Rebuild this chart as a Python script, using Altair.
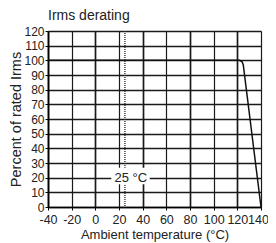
import altair as alt
import pandas as pd

temp = [-40, 122, 124, 125, 140]
pct = [100, 100, 99, 97, 0]
x_ticks = [-40, -20, 0, 20, 40, 60, 80, 100, 120, 140]
y_ticks = [0, 10, 20, 30, 40, 50, 60, 70, 80, 90, 100, 110, 120]
ref_temp = [25]
label_text = ["25 °C"]
label_x = [30]
label_y = [20]
label_box_x = [13.5]
label_box_x2 = [46]
label_box_y = [15.5]
label_box_y2 = [26.8]

FONT = "Liberation Sans"

curve = pd.DataFrame({"t": temp, "p": pct})
ref = pd.DataFrame({"t": ref_temp})
lab = pd.DataFrame({"x": label_x, "y": label_y, "txt": label_text,
                    "bx": label_box_x, "bx2": label_box_x2,
                    "by": label_box_y, "by2": label_box_y2})

xscale = alt.Scale(domain=[-40, 140], nice=False, zero=False)
yscale = alt.Scale(domain=[0, 120], nice=False)

xaxis = alt.Axis(values=x_ticks, title="Ambient temperature (°C)", grid=True,
                 gridColor="#1a1a1a", gridOpacity=1,
                 gridWidth=alt.condition("datum.value % 40 === 0", alt.value(1.7), alt.value(1.2)),
                 domainColor="#000", domainWidth=1.5, tickColor="#000", tickSize=3,
                 labelFont=FONT, labelFontSize=12.5, labelColor="#222", labelPadding=3,
                 labelOverlap=False, labelFlush=False,
                 labelExpr="toString(datum.value)",
                 labelOffset=alt.condition("datum.value === 140", alt.value(-3), alt.value(0)),
                 titleFont=FONT, titleFontSize=13, titleFontWeight="normal",
                 titleColor="#222", titlePadding=3)
yaxis = alt.Axis(values=y_ticks, title="Percent of rated Irms", grid=True,
                 gridColor="#1a1a1a", gridWidth=1.4, gridOpacity=1,
                 domainColor="#000", domainWidth=1.5, tickColor="#000", tickSize=3,
                 labelFont=FONT, labelFontSize=12, labelColor="#222", labelPadding=1,
                 labelOverlap=False, labelFlush=False,
                 titleFont=FONT, titleFontSize=14.5, titleFontWeight="normal",
                 titleColor="#222", titlePadding=0)

line = alt.Chart(curve).mark_line(color="#111", strokeWidth=1.5).encode(
    x=alt.X("t:Q", scale=xscale, axis=xaxis),
    y=alt.Y("p:Q", scale=yscale, axis=yaxis),
)

rule = alt.Chart(ref).mark_rule(color="#333", strokeWidth=1.4, strokeDash=[1, 1]).encode(
    x=alt.X("t:Q", scale=xscale, axis=xaxis),
)

box = alt.Chart(lab).mark_rect(color="white", opacity=1).encode(
    x=alt.X("bx:Q", scale=xscale, axis=xaxis), x2="bx2:Q",
    y=alt.Y("by:Q", scale=yscale, axis=yaxis), y2="by2:Q",
)

text = alt.Chart(lab).mark_text(font=FONT, fontSize=13, color="#222").encode(
    x=alt.X("x:Q", scale=xscale, axis=xaxis),
    y=alt.Y("y:Q", scale=yscale, axis=yaxis),
    text="txt:N",
)

chart = alt.layer(line, rule, box, text).properties(
    width=213, height=176,
    title=alt.TitleParams("Irms derating", anchor="start", frame="group",
                          font=FONT, fontSize=14, fontWeight="normal",
                          color="#222", offset=2),
    autosize=alt.AutoSizeParams(type="none"),
    padding={"left": 40, "top": 23, "right": 7, "bottom": 36},
).configure_view(stroke="#000", strokeWidth=1.5).configure(background="white")

chart.save("out.html", embed_options={"renderer": "svg", "actions": False})
